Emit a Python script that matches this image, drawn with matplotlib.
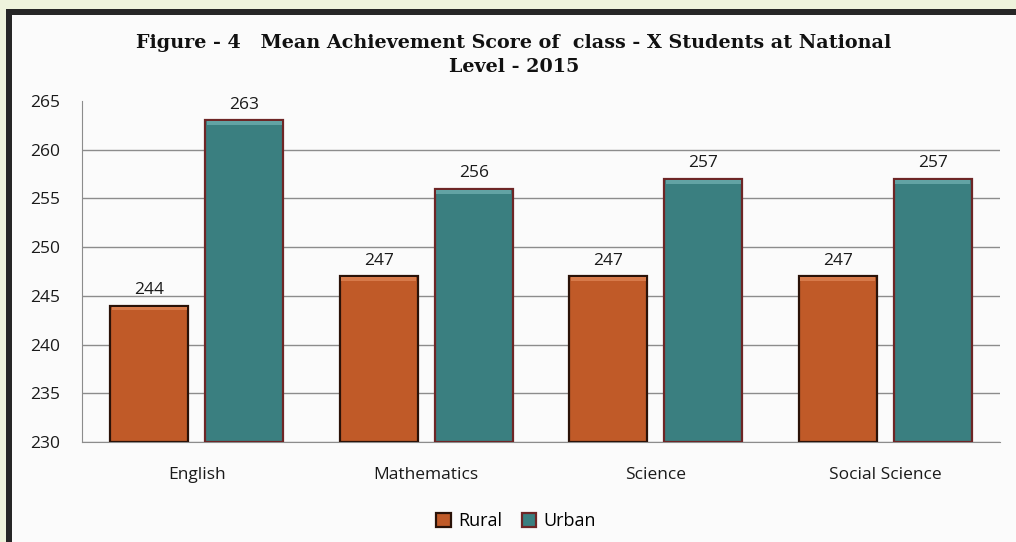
import matplotlib
matplotlib.use("Agg")
import matplotlib.pyplot as plt
from matplotlib.patches import Rectangle
import numpy as np

categories = ["English", "Mathematics", "Science", "Social Science"]
rural = [244, 247, 247, 247]
urban = [263, 256, 257, 257]
series_names = ["Rural", "Urban"]
yticks = [230, 235, 240, 245, 250, 255, 260, 265]
title = "Figure - 4   Mean Achievement Score of  class - X Students at National\nLevel - 2015"

W, H = 1016, 542
fig = plt.figure(figsize=(W / 100, H / 100), dpi=100)
fig.patch.set_facecolor("#eef3dc")

# outer frame (dark border, white panel)
fig.patches.append(Rectangle((6 / W, -0.1), 1.2, 1 - 9 / H + 0.1, transform=fig.transFigure,
                             facecolor="#262626", edgecolor="none", zorder=-10))
fig.patches.append(Rectangle((12 / W, -0.1), 1.2, 1 - 15 / H + 0.1, transform=fig.transFigure,
                             facecolor="#fbfbfb", edgecolor="none", zorder=-9))

ax = fig.add_axes([82 / W, 1 - 442 / H, 918 / W, 341 / H])
ax.set_facecolor("none")
ax.set_zorder(1)

x = np.arange(len(categories))
bw = 0.34
off = 0.207
base = yticks[0]

rural_col = "#c05a28"
urban_col = "#3a7f80"
rb = ax.bar(x - off, np.array(rural) - base, bw, bottom=base, color=rural_col,
            edgecolor="#2a1208", linewidth=1.6, zorder=3, label=series_names[0])
ub = ax.bar(x + off, np.array(urban) - base, bw, bottom=base, color=urban_col,
            edgecolor="#6e2626", linewidth=1.6, zorder=3, label=series_names[1])

# top bevel highlight
hl = 0.4
ax.bar(x - off, hl, bw * 0.96, bottom=np.array(rural) - hl - 0.1, color="#d77a4a",
       edgecolor="none", zorder=4)
ax.bar(x + off, hl, bw * 0.96, bottom=np.array(urban) - hl - 0.1, color="#62a3a4",
       edgecolor="none", zorder=4)

lab_font = "Open Sans"
fs = 12.5
for xi, v in zip(x - off, rural):
    ax.text(xi, v + 0.8, str(v), ha="center", va="bottom", fontsize=fs,
            family=lab_font, color="#1a1a1a")
for xi, v in zip(x + off, urban):
    ax.text(xi, v + 0.8, str(v), ha="center", va="bottom", fontsize=fs,
            family=lab_font, color="#1a1a1a")

ax.set_ylim(yticks[0], yticks[-1])
ax.set_xlim(-0.5, len(categories) - 0.5)
ax.set_yticks(yticks)
ax.set_yticklabels([str(t) for t in yticks], family=lab_font, fontsize=fs, color="#1a1a1a")
ax.set_xticks(x)
ax.set_xticklabels(categories, family=lab_font, fontsize=fs, color="#1a1a1a")
ax.tick_params(axis="both", length=0)
ax.tick_params(axis="y", pad=16)
ax.tick_params(axis="x", pad=18)
ax.grid(axis="y", color="#8c8c8c", linewidth=1.0, zorder=1)
ax.get_ygridlines()[-1].set_visible(False)
for s in ["top", "right"]:
    ax.spines[s].set_visible(False)
ax.spines["left"].set_color("#8c8c8c")
ax.spines["bottom"].set_color("#8c8c8c")

fig.text(514 / W, 1 - 55 / H, title, ha="center", va="center", fontsize=13.8,
         fontweight="bold", family="DejaVu Serif", color="#111111", linespacing=1.45)

leg = fig.legend(handles=[rb, ub], labels=series_names, loc="center",
                 bbox_to_anchor=(516 / W, 1 - 521 / H), ncol=2, frameon=False,
                 prop={"family": lab_font, "size": 13}, handlelength=0.8,
                 handleheight=0.8, handletextpad=0.4, columnspacing=1.1)

fig.savefig("out.png", dpi=100, facecolor=fig.get_facecolor())
